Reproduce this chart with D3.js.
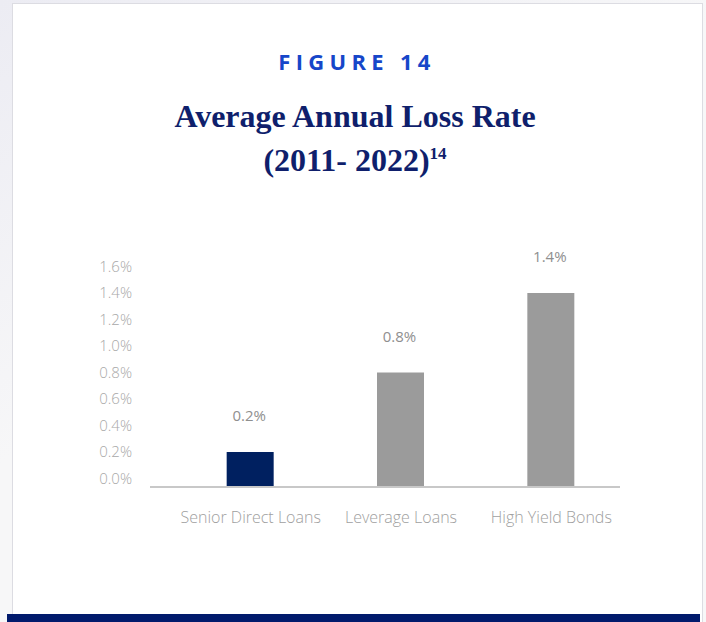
<!DOCTYPE html>
<html>
<head>
<meta charset="utf-8">
<script src="https://cdn.jsdelivr.net/npm/d3@7/dist/d3.min.js"></script>
<style>
  html, body { margin: 0; padding: 0; background: #f4f4f7; }
  svg { display: block; }
</style>
</head>
<body>
<svg id="chart" width="706" height="622"></svg>
<script>
// Chart data
const categories = ["Senior Direct Loans", "Leverage Loans", "High Yield Bonds"];
const lossRates = [0.2, 0.8, 1.4];          // average annual loss rate, %
const barColors = ["#002060", "#9b9b9b", "#9b9b9b"];
const yTicks = [0, 0.2, 0.4, 0.6, 0.8, 1.0, 1.2, 1.4, 1.6];

const svg = d3.select("#chart");
const W = 706, H = 622;

// Page backdrop with a soft diagonal shade on the left
const defs = svg.append("defs");
const grad = defs.append("linearGradient").attr("id", "bg")
  .attr("x1", 0).attr("y1", 0).attr("x2", 0.35).attr("y2", 0.5);
grad.append("stop").attr("offset", "0").attr("stop-color", "#ececf3");
grad.append("stop").attr("offset", "1").attr("stop-color", "#f7f7f8");
svg.append("rect").attr("width", W).attr("height", H).attr("fill", "url(#bg)");

// Card
svg.append("rect")
  .attr("x", 12.5).attr("y", 3.5).attr("width", 690).attr("height", 640)
  .attr("fill", "#ffffff").attr("stroke", "#dcdce2").attr("stroke-width", 1);

// Footer band
svg.append("rect")
  .attr("x", 7).attr("y", 614).attr("width", 693).attr("height", 8)
  .attr("fill", "#011a6c");

// Headings
svg.append("text")
  .attr("x", 357).attr("y", 70)
  .attr("text-anchor", "middle")
  .attr("font-family", "'Open Sans', 'Noto Sans', sans-serif")
  .attr("font-weight", 700)
  .attr("font-size", 22)
  .attr("letter-spacing", "5.3px")
  .attr("fill", "#1646c9")
  .text("FIGURE 14");

const titleStyle = sel => sel
  .attr("text-anchor", "middle")
  .attr("font-family", "'Liberation Serif', 'DejaVu Serif', serif")
  .attr("font-weight", 700)
  .attr("font-size", 32)
  .attr("fill", "#0f1f6c");

svg.append("text").call(titleStyle)
  .attr("x", 355).attr("y", 127)
  .text("Average Annual Loss Rate");

const t2 = svg.append("text").call(titleStyle).attr("x", 355).attr("y", 171);
t2.append("tspan").text("(2011- 2022)");
t2.append("tspan").attr("font-size", 17).attr("dy", -12).text("14");

// Scales
const x = d3.scalePoint().domain(categories).range([175, 626]).padding(0.5);
const y = d3.scaleLinear().domain([0, 1.6]).range([478.5, 266.5]);
const barWidth = 47;
const baseY = y(0) + 7.5;   // category axis line sits just under the zero tick

const labelFont = "'Open Sans', 'Noto Sans', sans-serif";

// Y tick labels
const yAxis = d3.axisLeft(y)
  .tickValues(yTicks)
  .tickFormat(d => d.toFixed(1) + "%")
  .tickSize(0)
  .tickPadding(0);
const gy = svg.append("g").attr("transform", "translate(132,0)").call(yAxis);
gy.select(".domain").remove();
gy.selectAll("text")
  .attr("font-family", labelFont)
  .attr("font-weight", 300)
  .attr("font-size", 15)
  .attr("fill", "#a8a8a8");

// Bars
svg.append("g").selectAll("rect")
  .data(lossRates)
  .join("rect")
  .attr("x", (d, i) => x(categories[i]) - barWidth / 2)
  .attr("y", d => y(d))
  .attr("width", barWidth)
  .attr("height", d => baseY - y(d))
  .attr("fill", (d, i) => barColors[i]);

// Category axis line and labels
const xAxis = d3.axisBottom(x).tickSize(0).tickPadding(26);
const gx = svg.append("g").attr("transform", `translate(0,${baseY})`).call(xAxis);
gx.select(".domain").remove();
gx.append("line")
  .attr("x1", 150).attr("x2", 620).attr("y1", 1).attr("y2", 1)
  .attr("stroke", "#c8c8c8").attr("stroke-width", 2);
gx.selectAll(".tick text")
  .attr("font-family", labelFont)
  .attr("font-weight", 300)
  .attr("font-size", 16)
  .attr("fill", "#a0a0a0");

// Value labels
svg.append("g").selectAll("text")
  .data(lossRates)
  .join("text")
  .attr("x", (d, i) => x(categories[i]) - 1)
  .attr("y", d => y(d) - 31)
  .attr("text-anchor", "middle")
  .attr("font-family", labelFont)
  .attr("font-size", 15)
  .attr("fill", "#8f8f8f")
  .text(d => d.toFixed(1) + "%");
</script>
</body>
</html>
